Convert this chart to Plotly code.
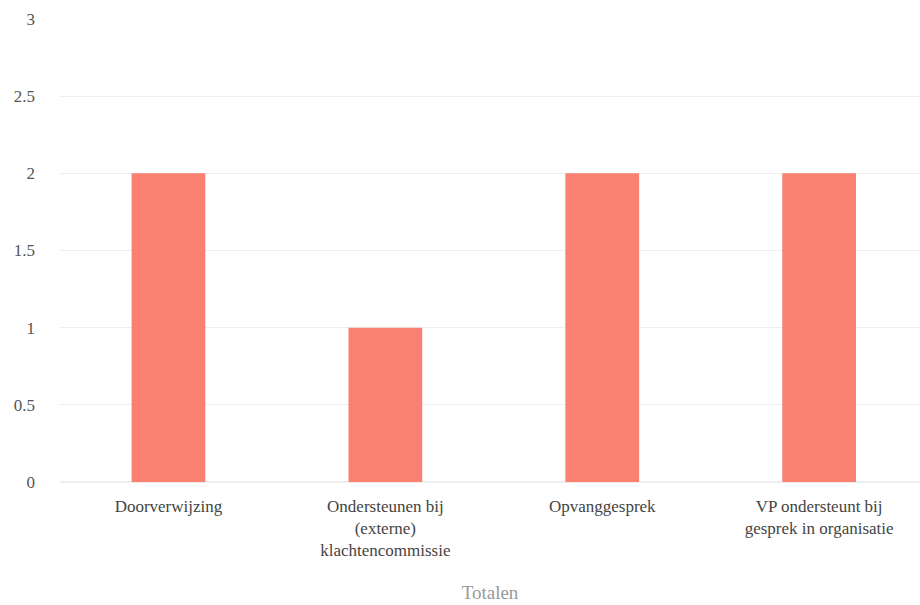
import plotly.graph_objects as go

categories = ["Doorverwijzing", "Ondersteunen bij<br>(externe)<br>klachtencommissie",
              "Opvanggesprek", "VP ondersteunt bij<br>gesprek in organisatie"]
values = [2, 1, 2, 2]
y_ticks = [0, 0.5, 1, 1.5, 2, 2.5, 3]
y_tick_labels = ["0", "0.5", "1", "1.5", "2", "2.5", "3"]

fig = go.Figure(go.Bar(x=list(range(len(categories))), y=values, marker_color="#fa8072",
                       marker_line_width=0))
fig.update_layout(
    width=920, height=605,
    margin=dict(l=60, r=0, t=19, b=123),
    paper_bgcolor="white", plot_bgcolor="white",
    bargap=0.66,
    showlegend=False,
    font=dict(family="Liberation Serif, Times New Roman, serif", size=17, color="#555"),
)
fig.update_xaxes(
    tickmode="array", tickvals=list(range(len(categories))), ticktext=categories,
    range=[-0.5, 3.465], showgrid=False, zeroline=False, showline=False,
    ticks="", ticklabelstandoff=12, tickfont=dict(size=17, color="#444"),
    title=dict(text="Totalen", font=dict(size=19, color="#999"), standoff=26),
)
fig.update_yaxes(
    range=[0, 3], tickmode="array", tickvals=y_ticks, ticktext=y_tick_labels,
    showgrid=True, gridcolor="#eeeeee", zeroline=True, zerolinecolor="#eeeeee",
    ticks="", ticklabelstandoff=24, tickfont=dict(size=17, color="#555"),
)
fig.write_html("out.html")
